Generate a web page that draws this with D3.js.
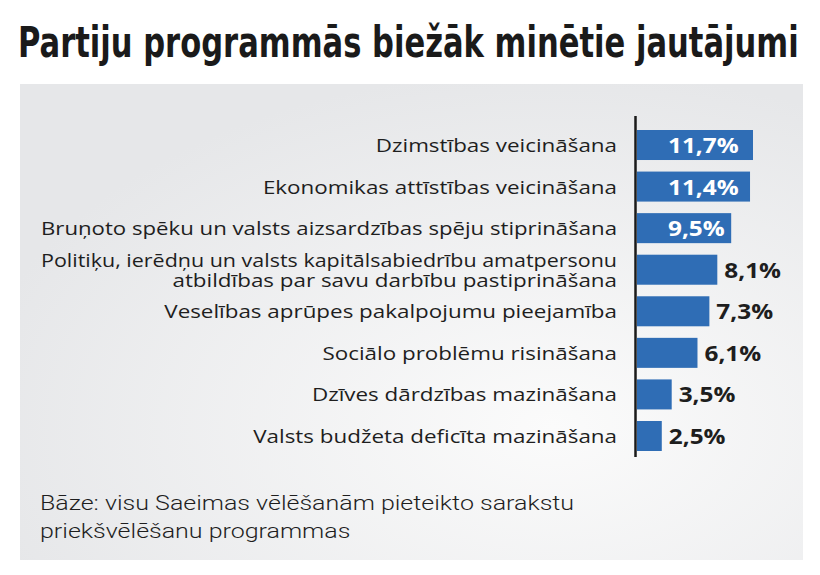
<!DOCTYPE html>
<html>
<head>
<meta charset="utf-8">
<script src="https://cdn.jsdelivr.net/npm/d3@7"></script>
<style>
  html, body { margin: 0; padding: 0; background: #fff; }
  svg { display: block; }
</style>
</head>
<body>
<div id="chart"></div>
<script>
// chart data
var titleText = "Partiju programmās biežāk minētie jautājumi";
var categories = [
    ["Dzimstības veicināšana"],
    ["Ekonomikas attīstības veicināšana"],
    ["Bruņoto spēku un valsts aizsardzības spēju stiprināšana"],
    ["Politiķu, ierēdņu un valsts kapitālsabiedrību amatpersonu", "atbildības par savu darbību pastiprināšana"],
    ["Veselības aprūpes pakalpojumu pieejamība"],
    ["Sociālo problēmu risināšana"],
    ["Dzīves dārdzības mazināšana"],
    ["Valsts budžeta deficīta mazināšana"]
];
var values = [11.7, 11.4, 9.5, 8.1, 7.3, 6.1, 3.5, 2.5];
var valueLabels = ["11,7%", "11,4%", "9,5%", "8,1%", "7,3%", "6,1%", "3,5%", "2,5%"];
var footnote = ["Bāze: visu Saeimas vēlēšanām pieteikto sarakstu", "priekšvēlēšanu programmas"];

var W = 820, H = 575;
var blue = "#2f6db5";

var svg = d3.select("#chart")
    .append("svg")
    .attr("width", W)
    .attr("height", H);

// the fonts of the original are wider than the ones we have, so widen text a bit
function widen(sel, factor, maxW) {
    sel.each(function () {
        var w = this.getComputedTextLength() * factor;
        if (maxW && w > maxW) w = maxW;
        d3.select(this)
            .attr("textLength", w)
            .attr("lengthAdjust", "spacingAndGlyphs");
    });
}

// background gradient of the panel
var defs = svg.append("defs");
var grad = defs.append("radialGradient")
    .attr("id", "panelGrad")
    .attr("cx", "68%").attr("cy", "72%").attr("r", "75%");
grad.append("stop").attr("offset", "0%").attr("stop-color", "#fbfbfb");
grad.append("stop").attr("offset", "100%").attr("stop-color", "#e6e7e9");

svg.append("rect")
    .attr("x", 20).attr("y", 84)
    .attr("width", 783).attr("height", 476)
    .attr("fill", "url(#panelGrad)");

// title: tall condensed look, squeezed horizontally to span the width
var titleG = svg.append("g");
var title = titleG.append("text")
    .attr("x", 0)
    .attr("y", 0)
    .style("font-family", "'Liberation Sans Narrow', 'DejaVu Sans Condensed', Roboto, sans-serif")
    .style("font-weight", "bold")
    .style("font-size", "43px")
    .style("fill", "#1a1a1a")
    .text(titleText);
var tw = title.node().getComputedTextLength();
titleG.attr("transform", "translate(18,57) scale(" + (781 / tw) + ",1)");

// scales
var idx = d3.range(values.length);
var x = d3.scaleLinear()
    .domain([0, 11.7])
    .range([637, 753]);

var y = d3.scaleBand()
    .domain(idx)
    .range([130, 451])
    .paddingInner(0.278)
    .paddingOuter(0);

// bars
svg.selectAll(".bar")
    .data(idx)
    .enter().append("rect")
    .attr("class", "bar")
    .attr("x", x(0))
    .attr("y", function (i) { return y(i); })
    .attr("width", function (i) { return x(values[i]) - x(0); })
    .attr("height", y.bandwidth())
    .attr("fill", blue);

// vertical axis line
svg.append("g")
    .attr("transform", "translate(" + (x(0) - 1.5) + ",0)")
    .call(d3.axisLeft(y).tickSize(0).tickFormat(""))
    .call(function (g) {
        g.select(".domain")
            .attr("d", "M0," + (y.range()[0] - 14) + "V" + (y.range()[1] + 6))
            .attr("stroke", "#1a1a1a")
            .attr("stroke-width", 2.5);
    });

// category labels
var labels = svg.selectAll(".cat")
    .data(idx)
    .enter().append("text")
    .attr("class", "cat")
    .attr("text-anchor", "end")
    .style("font-family", "'Open Sans', sans-serif")
    .style("font-size", "18.5px")
    .style("fill", "#1e1e1e");

labels.each(function (i) {
    var lines = categories[i];
    var cy = y(i) + y.bandwidth() / 2;
    var lh = 20;
    var t = d3.select(this);
    lines.forEach(function (l, k) {
        t.append("tspan")
            .attr("x", 617)
            .attr("y", cy - (lines.length - 1) * lh / 2 + k * lh + 7)
            .text(l);
    });
});
widen(labels.selectAll("tspan"), 1.21, 576);

// value labels
var vals = svg.selectAll(".val")
    .data(idx)
    .enter().append("text")
    .attr("class", "val")
    .attr("x", function (i) { return values[i] > 9 ? x(0) + 31 : x(values[i]) + 7; })
    .attr("y", function (i) { return y(i) + y.bandwidth() / 2 + 8; })
    .style("font-family", "'Open Sans', sans-serif")
    .style("font-weight", "bold")
    .style("font-size", "21px")
    .style("fill", function (i) { return values[i] > 9 ? "#fff" : "#1e1e1e"; })
    .text(function (i) { return valueLabels[i]; });
widen(vals, 1.16);

// footnote
var foot = svg.selectAll(".foot")
    .data(footnote)
    .enter().append("text")
    .attr("class", "foot")
    .attr("x", 40)
    .attr("y", function (d, k) { return 510 + k * 28; })
    .style("font-family", "Roboto, sans-serif")
    .style("font-weight", 300)
    .style("font-size", "21px")
    .style("fill", "#1e1e1e")
    .text(function (d) { return d; });
widen(foot, 1.19);
</script>
</body>
</html>
